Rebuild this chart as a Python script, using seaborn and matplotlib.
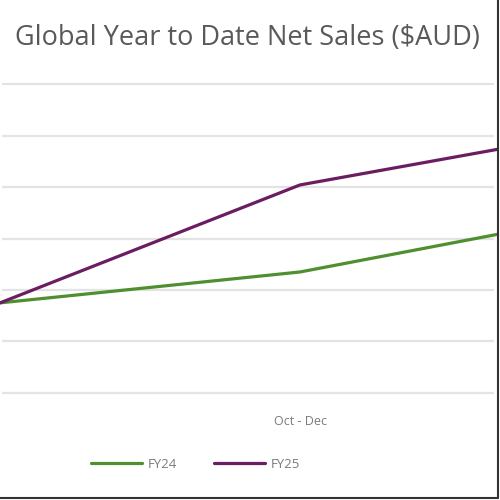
import matplotlib
matplotlib.use("Agg")
import matplotlib.pyplot as plt
import seaborn as sns
import pandas as pd

# quarterly YTD net sales (millions)
quarters = ["Jul - Sep", "Oct - Dec", "Jan - Mar"]
fy24 = [1.75, 2.35, 3.46]
fy25 = [1.75, 4.04, 5.09]
grid_vals = [0, 1, 2, 3, 4, 5, 6]

df = pd.DataFrame({
    "pos": list(range(len(quarters))) * 2,
    "sales": fy24 + fy25,
    "year": ["FY24"] * len(fy24) + ["FY25"] * len(fy25),
})

sns.set_theme(style="white")
plt.rcParams["font.family"] = ["Open Sans", "DejaVu Sans"]

fig = plt.figure(figsize=(5, 5), dpi=100)
ax = fig.add_axes([0, 0.2, 0.996, 0.66])

for v in grid_vals:
    ax.axhline(v, xmin=0.006, xmax=493 / 498, color="#e3e3e3", lw=1.6, zorder=0)

sns.lineplot(data=df, x="pos", y="sales", hue="year",
             palette={"FY24": "#4f8f2f", "FY25": "#6b1d62"},
             linewidth=2.3, ax=ax)

# only the middle quarter label is inside the visible (cropped) area
ax.set_xticks([1])
ax.set_xticklabels([quarters[1]], color="#7a7a7a", fontsize=9)
ax.set_xlim(0, 498 / 300)
ax.set_ylim(-0.136, 6.272)
ax.set_yticks([])
ax.tick_params(axis="x", length=0, pad=11)
ax.set_xlabel("")
ax.set_ylabel("")
for s in ax.spines.values():
    s.set_visible(False)

sns.move_legend(ax, "center", bbox_to_anchor=(196 / 498, -64 / 330), ncol=2,
                frameon=False, title=None, fontsize=9.5, handlelength=3.8,
                columnspacing=2.8, handletextpad=0.5)
for t in ax.get_legend().get_texts():
    t.set_color("#7a7a7a")

fig.text(247 / 500, 1 - 38 / 500, "Global Year to Date Net Sales ($AUD)",
         ha="center", va="center", fontsize=19.5, color="#595959")

# screenshot frame on right and bottom
fig.add_artist(plt.Line2D([0, 0.996], [0.005, 0.005], transform=fig.transFigure,
                          color="#333333", lw=1.5))
fig.add_artist(plt.Line2D([0.996, 0.996], [0.005, 1], transform=fig.transFigure,
                          color="#333333", lw=1.5))

fig.savefig("out.png", dpi=100, facecolor="white")
